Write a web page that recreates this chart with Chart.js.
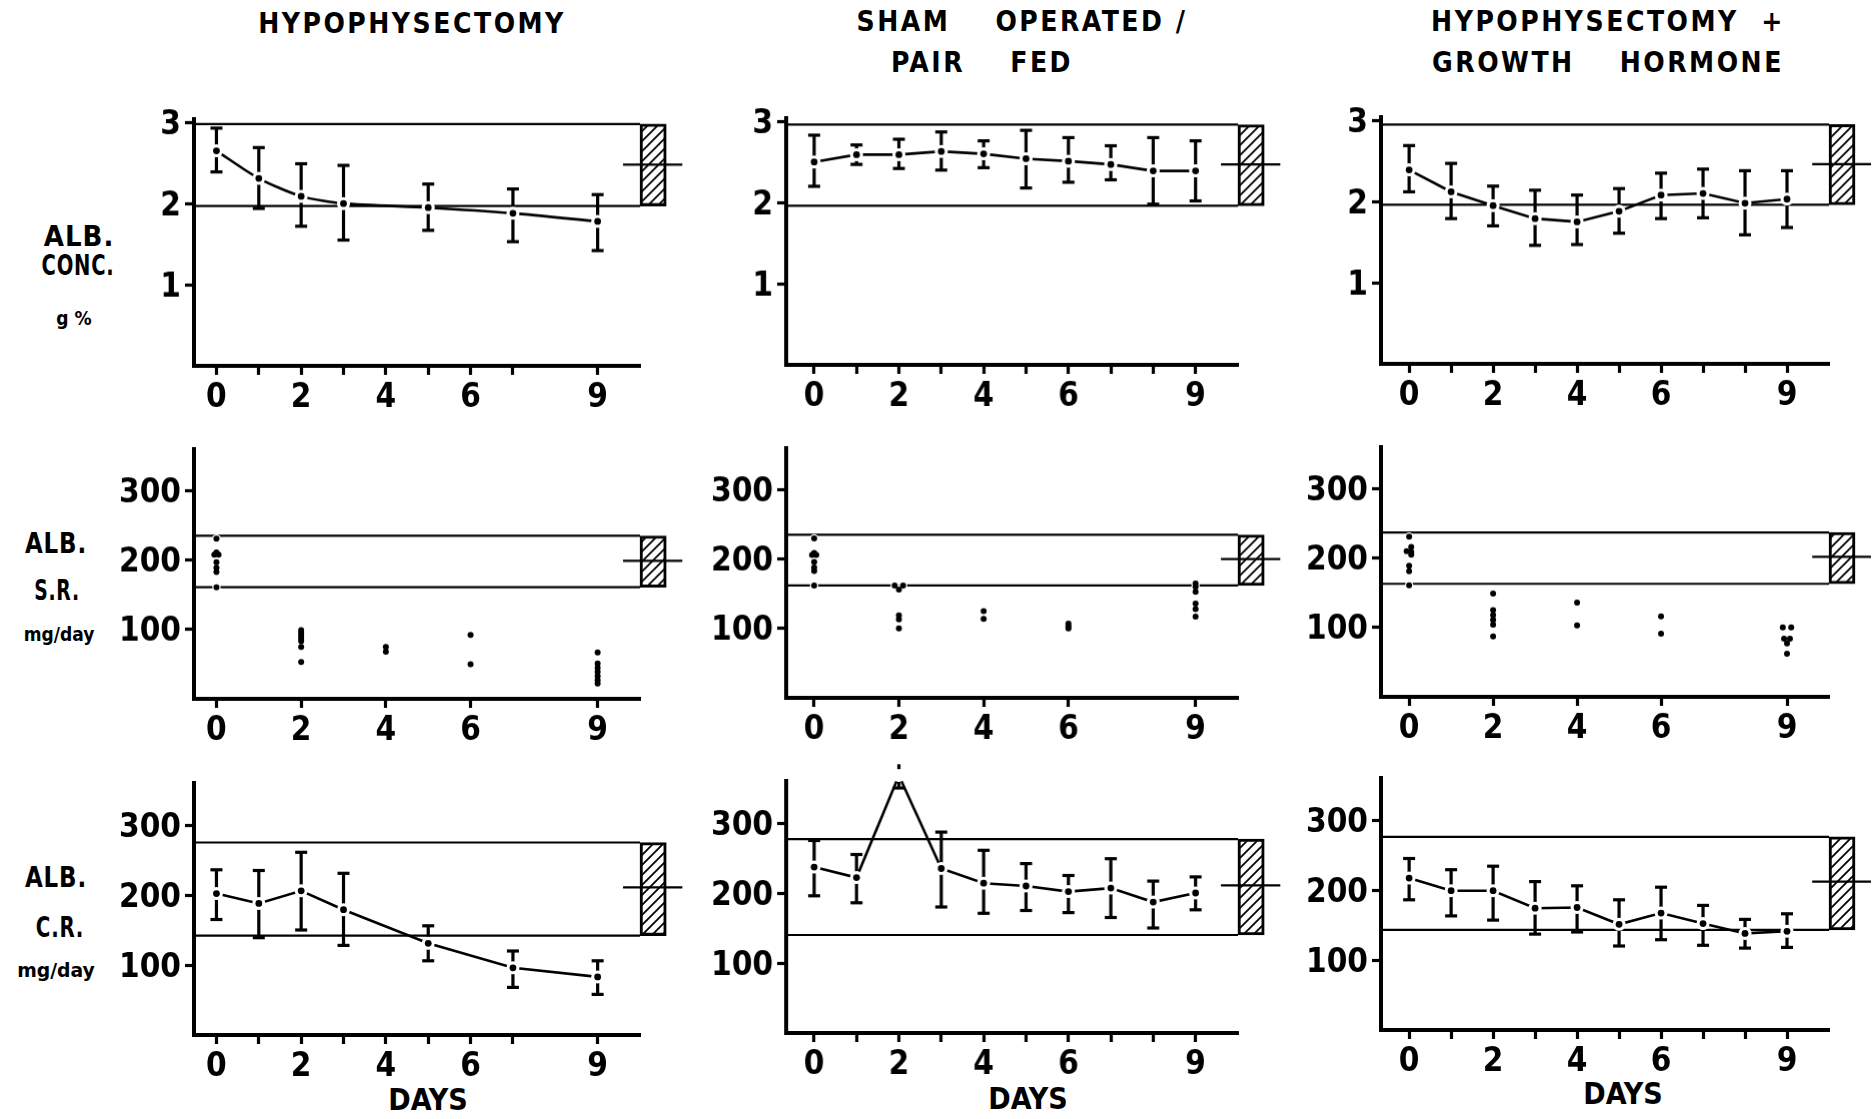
<!DOCTYPE html>
<html>
<head>
<meta charset="utf-8">
<script src="https://cdn.jsdelivr.net/npm/chart.js@4.4.1/dist/chart.umd.min.js"></script>
<style>
  body { margin: 0; background: #fff; width: 1875px; height: 1119px; position: relative; overflow: hidden; }
  canvas { position: absolute; }
  .lbl { position: absolute; white-space: pre; transform: translate(-50%, -50%) scaleX(var(--sx, 1)); color: #000;
         font-family: 'DejaVu Sans Condensed', 'Liberation Sans Narrow', 'DejaVu Sans', sans-serif;
         font-stretch: condensed; font-weight: bold; line-height: 1; }
  .title { font-size: 28px; letter-spacing: 2.5px; }
  .row { font-size: 29px; letter-spacing: 1px; }
  .unit { font-size: 19px; }
  .days { font-size: 30px; }
</style>
</head>
<body>
<div class="lbl title" style="left:412px;top:24px">HYPOPHYSECTOMY</div>
<div class="lbl title" style="left:1022px;top:22px">SHAM    OPERATED /</div>
<div class="lbl title" style="left:982px;top:63px">PAIR    FED</div>
<div class="lbl title" style="left:1608px;top:22px">HYPOPHYSECTOMY  +</div>
<div class="lbl title" style="left:1608px;top:63px">GROWTH    HORMONE</div>

<div class="lbl row" style="left:79px;top:236px">ALB.</div>
<div class="lbl row" style="left:78px;top:265px;--sx:0.75">CONC.</div>
<div class="lbl unit" style="left:74px;top:318px">g %</div>
<div class="lbl row" style="left:56px;top:543px;--sx:0.88">ALB.</div>
<div class="lbl row" style="left:57px;top:590px;--sx:0.72">S.R.</div>
<div class="lbl unit" style="left:59px;top:634px">mg/day</div>
<div class="lbl row" style="left:56px;top:877px;--sx:0.88">ALB.</div>
<div class="lbl row" style="left:60px;top:927px;--sx:0.76">C.R.</div>
<div class="lbl unit" style="left:56px;top:970px;--sx:1.1">mg/day</div>

<div class="lbl days" style="left:428px;top:1100px">DAYS</div>
<div class="lbl days" style="left:1028px;top:1099px">DAYS</div>
<div class="lbl days" style="left:1623px;top:1094px">DAYS</div>

<script>
// ---- albumin concentration, g% (mean with error bars) ----
const hypoConcDays = [0, 1, 2, 3, 5, 7, 9];
const hypoConcMean = [2.65, 2.31, 2.09, 2.00, 1.95, 1.88, 1.78];
const hypoConcHigh = [2.93, 2.69, 2.49, 2.47, 2.24, 2.18, 2.11];
const hypoConcLow  = [2.39, 1.94, 1.72, 1.55, 1.67, 1.53, 1.42];

const shamConcDays = [0, 1, 2, 3, 4, 5, 6, 7, 8, 9];
const shamConcMean = [2.50, 2.59, 2.59, 2.63, 2.60, 2.54, 2.51, 2.47, 2.39, 2.39];
const shamConcHigh = [2.83, 2.71, 2.78, 2.87, 2.76, 2.89, 2.80, 2.70, 2.80, 2.76];
const shamConcLow  = [2.20, 2.47, 2.42, 2.40, 2.43, 2.18, 2.25, 2.28, 1.98, 2.02];

const ghConcDays = [0, 1, 2, 3, 4, 5, 6, 7, 8, 9];
const ghConcMean = [2.39, 2.12, 1.95, 1.79, 1.75, 1.88, 2.08, 2.10, 1.98, 2.03];
const ghConcHigh = [2.69, 2.47, 2.19, 2.14, 2.08, 2.16, 2.35, 2.40, 2.38, 2.38];
const ghConcLow  = [2.12, 1.79, 1.70, 1.46, 1.47, 1.61, 1.79, 1.80, 1.59, 1.68];

// ---- albumin synthesis rate, mg/day (individual animals) ----
const hypoSrDays = [0, 0, -0.05, 0.05, 0, 0, 0, 0, 2, 2, 2, 2, 2, 2, 2, 4, 4, 6, 6, 9, 9, 9, 9, 9, 9, 9];
const hypoSrVals = [231, 211, 208, 208, 197, 189, 183, 161, 99, 95, 91, 87, 83, 75, 53, 75, 68, 92, 50, 67, 51, 45, 39, 33, 27, 22];

const shamSrDays = [0, 0, -0.05, 0.05, 0, 0, 0, 0, 1.9, 2.1, 2, 2, 2, 2, 4, 4, 6, 6, 6, 9, 9, 9, 9, 9, 9];
const shamSrVals = [230, 209, 206, 206, 196, 188, 183, 162, 162, 162, 156, 119, 113, 100, 125, 114, 107, 103, 100, 165, 160, 153, 136, 128, 117];

const ghSrDays = [0, 0.05, -0.06, 0.05, 0.05, 0, 0, 0, 2, 2, 2, 2, 2, 2, 4, 4, 6, 6, 8.9, 9.1, 8.93, 9.07, 9, 9];
const ghSrVals = [231, 216, 210, 209, 205, 189, 181, 161, 149, 125, 118, 111, 104, 87, 136, 103, 116, 91, 100, 100, 84, 84, 77, 62];

// ---- albumin catabolic rate, mg/day (mean with error bars) ----
const hypoCrDays = [0, 1, 2, 3, 5, 7, 9];
const hypoCrMean = [202, 188, 206, 179, 131, 96, 83];
const hypoCrHigh = [236, 235, 261, 231, 156, 120, 106];
const hypoCrLow  = [165, 139, 150, 128, 106, 68, 58];

const shamCrDays = [0, 1, 2, 3, 4, 5, 6, 7, 8, 9];
const shamCrMean = [237, 222, 368, 235, 214, 210, 202, 207, 187, 200];
const shamCrHigh = [275, 255, 384, 287, 261, 242, 225, 249, 217, 223];
const shamCrLow  = [196, 186, 350, 180, 171, 175, 172, 165, 150, 176];

const ghCrDays = [0, 1, 2, 3, 4, 5, 6, 7, 8, 9];
const ghCrMean = [217, 199, 199, 174, 175, 151, 167, 152, 138, 141];
const ghCrHigh = [245, 229, 234, 212, 206, 186, 204, 178, 158, 166];
const ghCrLow  = [186, 163, 157, 137, 140, 120, 129, 121, 117, 118];

// normal ranges of intact controls: [lower, upper, mean]
const hypoConcNormal = [1.97, 2.98, 2.48];
const shamConcNormal = [1.96, 2.96, 2.47];
const ghConcNormal   = [1.96, 2.95, 2.46];
const hypoSrNormal = [161, 235, 199];
const shamSrNormal = [162, 235, 200];
const ghSrNormal   = [163, 237, 202];
const hypoCrNormal = [142, 275, 211];
const shamCrNormal = [140, 277, 211];
const ghCrNormal   = [143, 276, 212];

// axis ticks
const dayTicksHypo = [0, 1, 2, 3, 4, 5, 6, 7, 9];
const dayTicksAll = [0, 1, 2, 3, 4, 5, 6, 7, 8, 9];
const dayTicksSr = [0, 2, 4, 6, 9];
const dayLabels = [0, 2, 4, 6, 9];
const concTicks = [1, 2, 3];
const rateTicks = [100, 200, 300];

const FONT = "'DejaVu Sans Condensed', 'Liberation Sans Narrow', 'DejaVu Sans', sans-serif";
Chart.defaults.font.family = FONT;
Chart.defaults.font.weight = 'bold';
Chart.defaults.color = '#000';

const Y_W = 100, PAD_T = 40, PAD_R = 60, X_H = 60;
const BOX = [10.0, 10.62];   // hatched control box, in days
const CROSS = [9.6, 11.0];   // control mean marker, in days

const cols = [
  { axisX: 194, xMin: -0.53, spacing: 42.4 },
  { axisX: 786, xMin: -0.66, spacing: 42.4 },
  { axisX: 1381, xMin: -0.67, spacing: 42.0 },
];
const rows = [
  { axisY: [366, 365, 364], yMax: 3.04, unit: 81.2, yTicks: concTicks },
  { axisY: [699, 698, 697], yMax: 360, unit: 0.694, yTicks: rateTicks },
  { axisY: [1035, 1033, 1030], yMax: 360, unit: 0.70, yTicks: rateTicks },
];

function hatch() {
  const c = document.createElement('canvas');
  c.width = 10; c.height = 10;
  const g = c.getContext('2d');
  g.strokeStyle = '#000';
  g.lineWidth = 1.8;
  g.beginPath();
  g.moveTo(-2, 12); g.lineTo(12, -2);
  g.moveTo(-7, 7); g.lineTo(7, -7);
  g.moveTo(3, 17); g.lineTo(17, 3);
  g.stroke();
  return g.createPattern(c, 'repeat');
}
const hatchFill = hatch();

function pts(xs, ys) {
  return xs.map((x, i) => ({ x: x, y: ys[i] }));
}

function errorPts(xs, lo, hi) {
  const out = [];
  xs.forEach((x, i) => {
    out.push({ x: x, y: lo[i] }, { x: x, y: hi[i] }, { x: x, y: null });
  });
  return out;
}

function buildDatasets(p) {
  const col = cols[p.col];
  const [lo, hi, mean] = p.normal;
  const line = (data, w, order) => ({
    type: 'line', data: data, borderColor: '#000', borderWidth: w,
    pointRadius: 0, order: order, clip: false,
  });
  const ds = [
    line([{ x: col.xMin, y: hi }, { x: BOX[0], y: hi }], 2.2, 6),
    line([{ x: col.xMin, y: lo }, { x: BOX[0], y: lo }], 2.2, 6),
    line([{ x: CROSS[0], y: mean }, { x: CROSS[1], y: mean }], 2.2, 5),
    {
      type: 'bar', data: [{ x: (BOX[0] + BOX[1]) / 2, y: [lo, hi] }],
      backgroundColor: hatchFill, borderColor: '#000', borderWidth: 2.4,
      borderSkipped: false, barThickness: (BOX[1] - BOX[0]) * col.spacing,
      order: 5, clip: false,
    },
  ];
  if (p.low) {
    ds.push({
      type: 'line', data: errorPts(p.days, p.low, p.high),
      borderColor: '#000', borderWidth: 3.2, pointStyle: 'line',
      pointRadius: 6, pointBorderWidth: 3.2, pointBorderColor: '#000',
      order: 4, clip: false,
    });
  }
  const meanPts = pts(p.days, p.mean);
  // white halo behind each point (also breaks the joining line, as in print)
  ds.push({
    type: 'line', data: meanPts, showLine: !!p.low, tension: p.tension || 0,
    borderColor: '#000', borderWidth: 2.6,
    pointRadius: p.low ? 6.5 : 4.2, pointBackgroundColor: '#fff', pointBorderWidth: 0,
    order: 2, clip: false,
  });
  ds.push({
    type: 'line', data: meanPts, showLine: false,
    pointRadius: p.low ? 3.4 : 3, pointBackgroundColor: '#000', pointBorderWidth: 0,
    order: 1, clip: false,
  });
  return ds;
}

function makePanel(p) {
  const col = cols[p.col], row = rows[p.row];
  const areaW = (10 - col.xMin) * col.spacing;
  const areaH = row.yMax * row.unit;
  const axisY = row.axisY[p.col];
  const canvas = document.createElement('canvas');
  const w = Y_W + areaW + PAD_R, h = PAD_T + areaH + X_H;
  canvas.width = w; canvas.height = h;
  canvas.style.left = (col.axisX - Y_W) + 'px';
  canvas.style.top = (axisY - areaH - PAD_T) + 'px';
  canvas.style.width = w + 'px';
  canvas.style.height = h + 'px';
  document.body.appendChild(canvas);

  const gridOpts = {
    display: true, drawOnChartArea: false, drawTicks: true,
    tickLength: 9, tickWidth: 3.2, tickColor: '#000',
  };
  new Chart(canvas, {
    type: 'line',
    data: { datasets: buildDatasets(p) },
    options: {
      responsive: false, animation: false, events: [],
      layout: { padding: { top: PAD_T, right: PAD_R, left: 0, bottom: 0 } },
      plugins: { legend: { display: false }, tooltip: { enabled: false } },
      scales: {
        x: {
          type: 'linear', min: col.xMin, max: 10, offset: false,
          afterBuildTicks: s => { s.ticks = p.xTicks.map(v => ({ value: v })); },
          afterFit: s => { s.height = X_H; },
          ticks: {
            autoSkip: false, maxRotation: 0, padding: 4,
            font: { size: 33, weight: 'bold' }, color: '#000',
            callback: v => (dayLabels.includes(v) ? String(v) : ''),
          },
          grid: Object.assign({ offset: false }, gridOpts),
          border: { display: true, color: '#000', width: 4 },
        },
        y: {
          type: 'linear', min: 0, max: row.yMax,
          afterBuildTicks: s => { s.ticks = row.yTicks.map(v => ({ value: v })); },
          afterFit: s => { s.width = Y_W; },
          ticks: { padding: 4, labelOffset: 3, font: { size: 33, weight: 'bold' }, color: '#000' },
          grid: gridOpts,
          border: { display: true, color: '#000', width: 4 },
        },
      },
    },
  });
}

const panels = [
  { col: 0, row: 0, days: hypoConcDays, mean: hypoConcMean, low: hypoConcLow, high: hypoConcHigh, normal: hypoConcNormal, xTicks: dayTicksHypo, tension: 0.25 },
  { col: 1, row: 0, days: shamConcDays, mean: shamConcMean, low: shamConcLow, high: shamConcHigh, normal: shamConcNormal, xTicks: dayTicksAll },
  { col: 2, row: 0, days: ghConcDays, mean: ghConcMean, low: ghConcLow, high: ghConcHigh, normal: ghConcNormal, xTicks: dayTicksAll },
  { col: 0, row: 1, days: hypoSrDays, mean: hypoSrVals, normal: hypoSrNormal, xTicks: dayTicksSr },
  { col: 1, row: 1, days: shamSrDays, mean: shamSrVals, normal: shamSrNormal, xTicks: dayTicksSr },
  { col: 2, row: 1, days: ghSrDays, mean: ghSrVals, normal: ghSrNormal, xTicks: dayTicksSr },
  { col: 0, row: 2, days: hypoCrDays, mean: hypoCrMean, low: hypoCrLow, high: hypoCrHigh, normal: hypoCrNormal, xTicks: dayTicksHypo },
  { col: 1, row: 2, days: shamCrDays, mean: shamCrMean, low: shamCrLow, high: shamCrHigh, normal: shamCrNormal, xTicks: dayTicksAll },
  { col: 2, row: 2, days: ghCrDays, mean: ghCrMean, low: ghCrLow, high: ghCrHigh, normal: ghCrNormal, xTicks: dayTicksAll },
];
panels.forEach(makePanel);
</script>
</body>
</html>
